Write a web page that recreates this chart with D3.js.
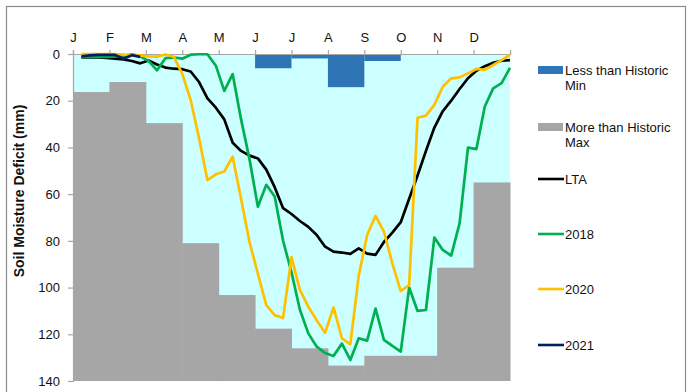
<!DOCTYPE html>
<html>
<head>
<meta charset="utf-8">
<script src="https://cdn.jsdelivr.net/npm/d3@7"></script>
<style>
  html, body { margin: 0; padding: 0; background: #fff; }
  svg { display: block; font-family: Arial, "Liberation Sans", sans-serif; }
</style>
</head>
<body>
<svg id="chart" width="689" height="392"></svg>
<script>
// Month labels along the top axis
const monthLabels = ["J", "F", "M", "A", "M", "J", "J", "A", "S", "O", "N", "D"];

// Monthly historic envelope (mm deficit)
const historicMin = [0, 0, 0, 0, 0, 6.1, 1.9, 14.2, 3.0, 0, 0, 0];
const historicMax = [16.3, 12.0, 29.6, 81.0, 103.2, 117.6, 126.0, 133.4, 129.2, 129.2, 91.5, 55.0];

// Weekly soil moisture deficit series (weeks 1..52)
const lta = [1.5, 1.5, 1.5, 1.7, 2.0, 2.3, 3.0, 4.0, 2.8, 4.5, 5.8, 6.3, 6.5,
  7.5, 12.0, 19.0, 23.0, 28.0, 38.0, 41.5, 43.5, 44.7, 49.5, 57.0, 66.0, 68.5,
  71.5, 74.0, 77.5, 82.5, 84.6, 85.0, 85.6, 83.2, 85.5, 86.0, 80.5, 76.5, 72.0,
  62.0, 52.0, 41.5, 31.5, 24.5, 20.0, 15.0, 10.4, 7.2, 5.2, 3.8, 2.9, 2.6];
const y2018 = [1.4, 1.2, 1.2, 1.2, 1.0, 0.8, 0.1, 1.0, 3.0, 7.0, 1.8, 1.5, 2.0,
  0.3, 0.1, 0.1, 5.0, 15.8, 8.6, 28.0, 45.0, 65.4, 56.0, 61.0, 80.0, 93.5,
  109.5, 119.6, 125.3, 128.0, 129.3, 124.0, 131.0, 121.7, 122.7, 109.0, 122.4, 125.0, 127.4,
  100.0, 110.0, 109.6, 78.6, 83.9, 86.3, 72.5, 40.1, 40.7, 22.5, 14.7, 12.5, 5.9];
const y2020 = [0, 0, 0, 0, 0, 0.3, 0.4, 0.6, 1.0, 1.1, 0.2, 1.2, 8.5,
  19.7, 36.0, 54.0, 51.5, 50.3, 44.0, 62.0, 80.5, 94.0, 107.5, 111.8, 113.0, 87.0,
  101.0, 108.2, 114.0, 119.3, 108.5, 121.7, 124.3, 95.0, 77.5, 69.3, 76.0, 89.6, 101.5,
  98.9, 27.3, 26.4, 21.8, 14.0, 10.4, 10.0, 8.3, 6.4, 6.8, 4.7, 2.6, 0.4];
const y2021 = [1.0, 0.6, 0.4, 0.4, 0.4, 2.0, 0.5, 1.2];

// Y axis ticks
const yTicks = [0, 20, 40, 60, 80, 100, 120, 140];

const series = [
  { name: "LTA", values: lta, color: "#000000" },
  { name: "2018", values: y2018, color: "#00b050" },
  { name: "2020", values: y2020, color: "#ffc000" },
  { name: "2021", values: y2021, color: "#002060" }
];

const svg = d3.select("#chart");
const plotLeft = 73, plotRight = 510, plotTop = 54, plotBottom = 381;

const x = d3.scaleLinear().domain([0, 52]).range([plotLeft, plotRight]);
const xm = d3.scaleLinear().domain([0, 12]).range([plotLeft, plotRight]);
const y = d3.scaleLinear().domain([0, 140]).range([plotTop, plotBottom]);

// Outer chart border
svg.append("rect")
  .attr("x", 6.5).attr("y", 6.5).attr("width", 679).attr("height", 392)
  .attr("fill", "#fff").attr("stroke", "#8c8c8c").attr("stroke-width", 1.2);

// Plot background: the historic range band
svg.append("rect")
  .attr("x", plotLeft).attr("y", plotTop)
  .attr("width", plotRight - plotLeft).attr("height", plotBottom - plotTop)
  .attr("fill", "#ccffff");

// More than historic max (grey steps)
svg.append("g").selectAll("rect")
  .data(historicMax)
  .join("rect")
  .attr("x", (d, i) => xm(i))
  .attr("width", (d, i) => xm(i + 1) - xm(i) + 0.5)
  .attr("y", d => y(d))
  .attr("height", d => y(140) - y(d))
  .attr("fill", "#a6a6a6");

// Less than historic min (blue bars from 0)
svg.append("g").selectAll("rect")
  .data(historicMin)
  .join("rect")
  .attr("x", (d, i) => xm(i))
  .attr("width", (d, i) => xm(i + 1) - xm(i))
  .attr("y", y(0))
  .attr("height", d => y(d) - y(0))
  .attr("fill", "#2e75b6");

// Axes
const yAxis = svg.append("g")
  .attr("transform", `translate(${plotLeft},0)`)
  .call(d3.axisLeft(y).tickValues(yTicks).tickSize(5).tickPadding(8));
const xAxis = svg.append("g")
  .attr("transform", `translate(0,${plotTop})`)
  .call(d3.axisTop(xm).tickValues(d3.range(0, 13)).tickSize(4).tickPadding(8)
    .tickFormat(i => monthLabels[i] || ""));

[yAxis, xAxis].forEach(g => {
  g.select(".domain").attr("stroke", "#a6a6a6").attr("stroke-width", 1.2);
  g.selectAll(".tick line").attr("stroke", "#a6a6a6").attr("stroke-width", 1.2);
  g.selectAll("text").attr("fill", "#111").attr("font-size", 13)
    .attr("font-family", "Arial, 'Liberation Sans', sans-serif");
});

// Weekly lines
const line = d3.line()
  .x((d, i) => x(i + 1))
  .y(d => y(d));

svg.append("g").selectAll("path")
  .data(series)
  .join("path")
  .attr("d", s => line(s.values))
  .attr("fill", "none")
  .attr("stroke", s => s.color)
  .attr("stroke-width", 2.7)
  .attr("stroke-linejoin", "round");

// Y axis title
svg.append("text")
  .attr("transform", "translate(24,191) rotate(-90)")
  .attr("text-anchor", "middle")
  .attr("font-size", 14)
  .attr("font-weight", "bold")
  .attr("fill", "#111")
  .text("Soil Moisture Deficit (mm)");

// Legend
const legendItems = [
  { type: "rect", color: "#2e75b6", lines: ["Less than Historic", "Min"], y: 70 },
  { type: "rect", color: "#a6a6a6", lines: ["More than Historic", "Max"], y: 127 },
  { type: "line", color: "#000000", lines: ["LTA"], y: 179 },
  { type: "line", color: "#00b050", lines: ["2018"], y: 234 },
  { type: "line", color: "#ffc000", lines: ["2020"], y: 289 },
  { type: "line", color: "#002060", lines: ["2021"], y: 345 }
];

const lg = svg.append("g");
legendItems.forEach(item => {
  if (item.type === "rect") {
    lg.append("rect")
      .attr("x", 538).attr("y", item.y - 4)
      .attr("width", 25).attr("height", 8)
      .attr("fill", item.color);
  } else {
    lg.append("line")
      .attr("x1", 538).attr("x2", 564)
      .attr("y1", item.y).attr("y2", item.y)
      .attr("stroke", item.color).attr("stroke-width", 2.6);
  }
  const t = lg.append("text")
    .attr("x", 565).attr("y", item.y)
    .attr("font-size", 13).attr("fill", "#111");
  item.lines.forEach((s, k) => {
    t.append("tspan").attr("x", 565).attr("dy", k === 0 ? "0.35em" : "1.2em").text(s);
  });
});
</script>
</body>
</html>
